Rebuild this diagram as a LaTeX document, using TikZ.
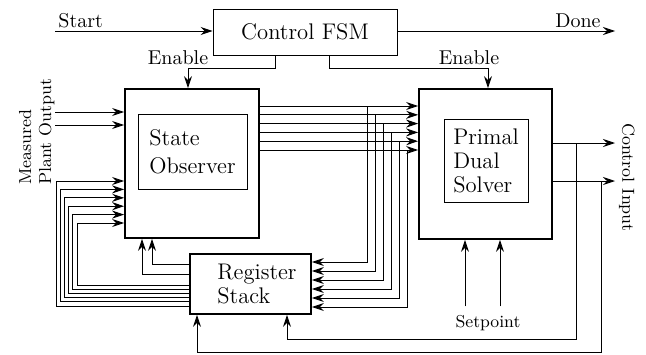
\documentclass[tikz,border=0pt]{standalone}
\usepackage{tikz}
\usetikzlibrary{arrows.meta}
\tikzset{
	every node/.style={
		font=\fontsize{10}{12}\selectfont
	},
	fsmbox/.style={
		shape=rectangle,
		draw,
		line width=0.45pt,
		minimum width=92pt,
		minimum height=23pt,
		font=\fontsize{11.3}{12}\selectfont
	},
	bigbox/.style={
		shape=rectangle,
		draw,
		line width=0.9pt
	},
	smallbox/.style={
		shape=rectangle,
		draw,
		line width=0.45pt,
		align=left,
		font=\fontsize{11.3}{12}\selectfont
	},
	boxtext/.style={
		align=left,
		font=\fontsize{11.3}{12}\selectfont
	},
	sidelabel/.style={
		align=left,
		inner sep=0pt,
		font=\fontsize{8.7}{10}\selectfont
	}
}

\begin{document}
\begin{tikzpicture}[>={Stealth[length=6pt,width=4pt,inset=2pt]},x=0.5pt,y=-0.5pt,line width=0.45pt]
	\useasboundingbox (0,0) rectangle (646,354);

	\node[fsmbox] (fsm) at (305,32) {Control FSM};
	\node[bigbox, minimum width=67pt, minimum height=74.5pt] (obs) at (192,163.5) {};
	\node[smallbox, minimum width=54.5pt, minimum height=37.5pt] (obsin) at (192.5,151.5) {State\\[2pt]Observer};
	\node[bigbox, minimum width=66.5pt, minimum height=75pt] (pds) at (485.5,164) {};
	\node[smallbox, minimum width=42pt, minimum height=41.5pt] (pdsin) at (486,160.5) {Primal\\Dual\\Solver};
	\node[bigbox, minimum width=60.5pt, minimum height=30pt,
		label={[boxtext, xshift=3.25pt]center:Register\\Stack}] (reg) at (250.5,284) {};

	\coordinate (start) at (55,31);
	\coordinate (done) at (615,31);
	\draw[->] (start) node[above right, inner sep=1.5pt] {Start} -- (fsm.west |- start);
	\draw[->] (fsm.east |- done) -- (done) node[above left, xshift=-5.5pt, inner sep=1.5pt] {Done};

	\draw[->] (fsm.south -| 275,0) |- (188,68) node[above, xshift=-5pt, inner sep=1.5pt] {Enable} -- (obs.north -| 188,0);
	\draw[->] (fsm.south -| 329,0) |- (488,68) node[above, xshift=-9.5pt, inner sep=1.5pt] {Enable} -- (pds.north -| 488,0);

	% measurements in
	\coordinate (meas1) at (55,112);
	\coordinate (meas2) at (55,125);
	\draw[->] (meas1) -- (obs.west |- meas1);
	\draw[->] (meas2) -- (obs.west |- meas2);
	\node[sidelabel, rotate=90, anchor=south west] (measlbl) at (55,185) {Measured\\Plant Output};

	% control out
	\coordinate (ctl1) at (615,143);
	\coordinate (ctl2) at (615,181);
	\draw[->] (pds.east |- ctl1) -- (ctl1);
	\draw[->] (pds.east |- ctl2) -- (ctl2);
	\node[sidelabel, rotate=-90, anchor=north west] (ctllbl) at (635,123) {Control Input};

	\coordinate (fb1) at (576,143);
	\coordinate (fb2) at (601,181);
	\draw[->] (fb1) |- (287,339) -- (reg.south -| 287,0);
	\draw[->] (fb2) |- (197,352) -- (reg.south -| 197,0);

	\node[font=\fontsize{8.6}{10}\selectfont, inner sep=4pt, anchor=base] (setpt) at (488,327) {Setpoint};
	\draw[->] (setpt.north -| 465,0) -- (pds.south -| 465,0);
	\draw[->] (setpt.north -| 500,0) -- (pds.south -| 500,0);

	\draw[->] (reg.west |- 0,264) -| (obs.south -| 152,0);
	\draw[->] (reg.west |- 0,274) -| (obs.south -| 142,0);

	\foreach \k in {0,...,5} {
		\draw[->] (obs.east |- 0,106+8.8*\k) -- (pds.west |- 0,106+8.8*\k);
		\draw[->] (367+8*\k,106+8.8*\k) |- (reg.east |- 0,262+9*\k);
		\draw[->] (reg.west |- 0,306-4.2*\k) -| (56+4.2*\k,181+8.4*\k) -- (obs.west |- 0,181+8.4*\k);
	}

\end{tikzpicture}
\end{document}
